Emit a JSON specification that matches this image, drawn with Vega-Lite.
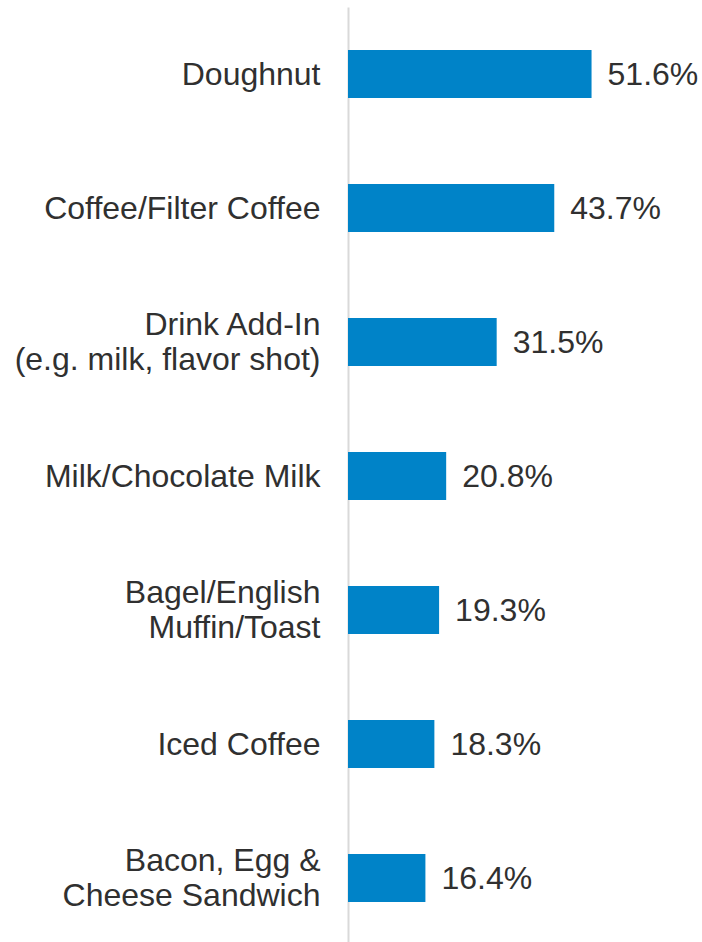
{
  "$schema": "https://vega.github.io/schema/vega-lite/v6.json",
  "autosize": "none",
  "width": 354,
  "height": 938,
  "padding": {"left": 348, "top": 7, "right": 0, "bottom": 0},
  "background": "white",
  "config": {"view": {"stroke": null}, "font": "Liberation Sans"},
  "data": {"values": [
    {"item": "Doughnut", "share": 0.516},
    {"item": "Coffee/Filter Coffee", "share": 0.437},
    {"item": "Drink Add-In\n(e.g. milk, flavor shot)", "share": 0.315},
    {"item": "Milk/Chocolate Milk", "share": 0.208},
    {"item": "Bagel/English\nMuffin/Toast", "share": 0.193},
    {"item": "Iced Coffee", "share": 0.183},
    {"item": "Bacon, Egg &\nCheese Sandwich", "share": 0.164}
  ]},
  "encoding": {
    "y": {
      "field": "item", "type": "nominal", "sort": null,
      "scale": {"paddingInner": 0.64, "paddingOuter": 0.32},
      "axis": {
        "title": null, "ticks": false, "domainColor": "#d9d9d9", "domainWidth": 2,
        "labelFont": "Liberation Sans", "labelFontSize": 32, "labelColor": "#303030",
        "labelPadding": 28, "labelLimit": 400, "labelLineHeight": 35,
        "labelOffset": {"condition": {"test": "indexof(datum.value, '\\n') >= 0", "value": -17}, "value": 1},
        "labelExpr": "split(datum.label, '\\n')"
      }
    },
    "x": {
      "field": "share", "type": "quantitative",
      "scale": {"domain": [0, 0.75]},
      "axis": null
    }
  },
  "layer": [
    {"mark": {"type": "bar", "color": "#0083C8"}},
    {
      "mark": {"type": "text", "align": "left", "baseline": "middle", "dx": 16, "dy": 1, "fontSize": 32, "color": "#303030", "font": "Liberation Sans"},
      "encoding": {"text": {"field": "share", "type": "quantitative", "format": ".1%"}}
    }
  ]
}
